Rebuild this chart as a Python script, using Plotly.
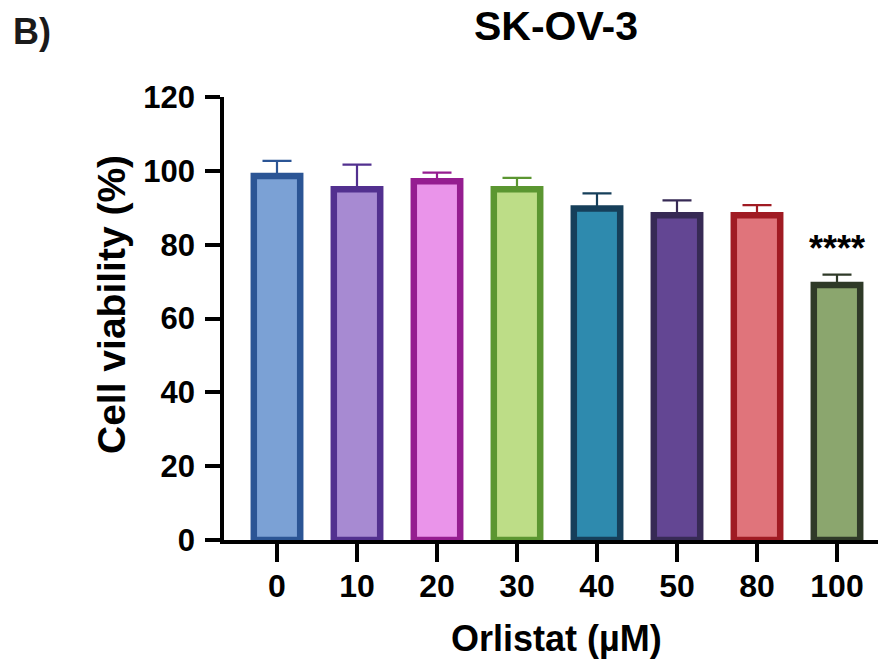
import plotly.graph_objects as go

# Orlistat dose (µM) and SK-OV-3 cell viability (% of control), mean + SD
doses = ["0", "10", "20", "30", "40", "50", "80", "100"]
viability = [98.6, 95.0, 97.2, 95.0, 89.8, 88.0, 88.0, 69.1]
sd_upper = [4.1, 6.7, 2.3, 3.1, 4.1, 4.0, 2.7, 2.8]
significance = ["", "", "", "", "", "", "", "****"]

fill_colors = ["#7BA1D5", "#A78AD2", "#EA94EA", "#BDDD87",
               "#2E8AAE", "#634693", "#E0747B", "#8BA66E"]
edge_colors = ["#2B5595", "#52308F", "#951D90", "#5B9631",
               "#163F5A", "#372A55", "#A01B23", "#2F3A28"]

FONT = "Liberation Sans, Arial, Helvetica, sans-serif"
W, H = 882, 660
ML, MR, MT, MB = 224, 4, 97, 120

fig = go.Figure()
for d, v, e, fc, ec in zip(doses, viability, sd_upper, fill_colors, edge_colors):
    fig.add_trace(go.Bar(
        x=[d], y=[v], width=0.58,
        marker=dict(color=fc, line=dict(color=ec, width=6.5)),
        error_y=dict(type="data", array=[e], arrayminus=[0], symmetric=False,
                     color=ec, thickness=2.2, width=14.5),
        showlegend=False, hoverinfo="skip",
    ))

annotations = []
# significance marks above the error bars (category index used as x position)
for i, (v, e, s) in enumerate(zip(viability, sd_upper, significance)):
    if s:
        annotations.append(dict(
            x=i, y=v + e + 7.0, xref="x", yref="y", text=s, showarrow=False,
            yanchor="middle", xanchor="center",
            font=dict(family=FONT, size=36, color="black", weight="bold"),
        ))

plot_w = W - ML - MR
plot_h = H - MT - MB

# Axis titles and panel label
annotations += [
    dict(text="Cell viability (%)", textangle=-90, showarrow=False,
         xref="paper", yref="paper",
         x=(111 - ML) / plot_w, y=(H - MB - 305) / plot_h,
         xanchor="center", yanchor="middle",
         font=dict(family=FONT, size=39, color="black", weight="bold")),
    dict(text="Orlistat (µM)", showarrow=False,
         xref="paper", yref="paper",
         x=(556 - ML) / plot_w, y=-(638 - (H - MB)) / plot_h,
         xanchor="center", yanchor="middle",
         font=dict(family=FONT, size=36, color="black", weight="bold")),
    dict(text="B)", showarrow=False,
         xref="paper", yref="paper",
         x=(11 - ML) / plot_w, y=1 + (MT - 32) / plot_h,
         xanchor="left", yanchor="middle",
         font=dict(family=FONT, size=36, color="#1a1a1a", weight="bold")),
    dict(text="SK-OV-3", showarrow=False,
         xref="paper", yref="paper",
         x=(556 - ML) / plot_w, y=1 + (MT - 26) / plot_h,
         xanchor="center", yanchor="middle",
         font=dict(family=FONT, size=41, color="black", weight="bold")),
]

fig.update_layout(
    width=W, height=H,
    margin=dict(l=ML, r=MR, t=MT, b=MB, pad=0),
    paper_bgcolor="white", plot_bgcolor="white",
    barmode="overlay",
    annotations=annotations,
    font=dict(family=FONT, color="black"),
)
fig.update_xaxes(
    type="category", categoryorder="array", categoryarray=doses,
    range=[-0.6625, 7.5125],
    showline=True, linecolor="black", linewidth=3.5,
    ticks="outside", ticklen=18, tickwidth=3.5, tickcolor="black",
    ticklabelstandoff=-3,
    showgrid=False, zeroline=False,
    tickfont=dict(family=FONT, size=32, color="black", weight="bold"),
)
fig.update_yaxes(
    range=[0, 120], tickvals=[0, 20, 40, 60, 80, 100, 120],
    showline=True, linecolor="black", linewidth=3.5,
    ticks="outside", ticklen=15, tickwidth=3.5, tickcolor="black",
    ticklabelstandoff=4,
    showgrid=False, zeroline=False,
    tickfont=dict(family=FONT, size=31, color="black", weight="bold"),
)

fig.write_html("out.html")
